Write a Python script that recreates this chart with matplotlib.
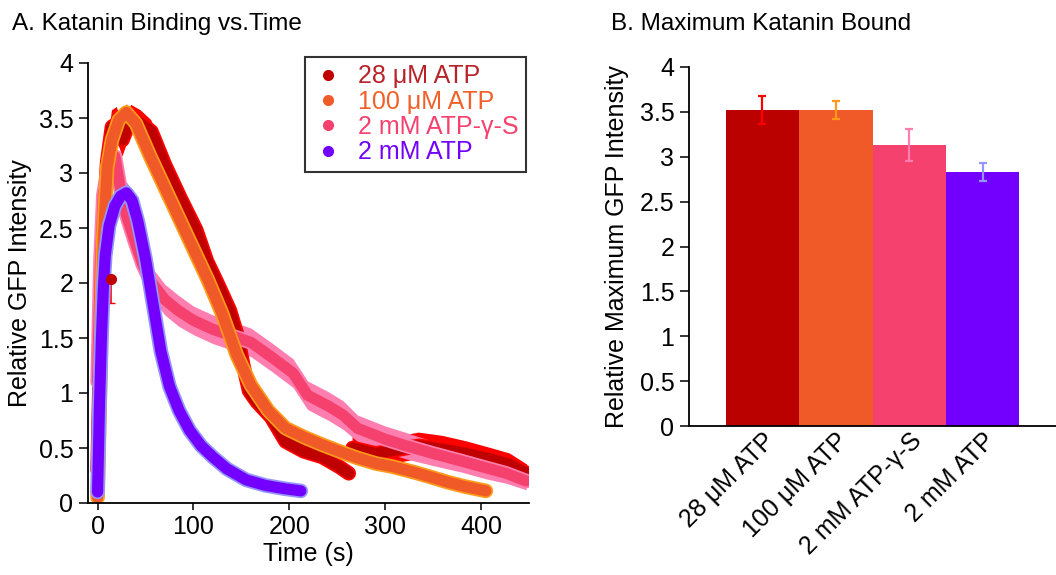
import matplotlib
matplotlib.use('Agg')
import matplotlib.pyplot as plt
import matplotlib.transforms as mtransforms
from matplotlib.lines import Line2D
import numpy as np

plt.rcParams['font.family'] = ['Liberation Sans', 'DejaVu Sans']

nan = np.nan

# --- A. Katanin binding vs time ---
t_28 = [0, 3, 6, 10, 15, 20, 26, 35, 45, 56, 70, 86, 103, 114, 126, 138, 146, 152, 158,
        166, 181, 196, 215, 234, 252, 262, nan, 266, 290, 310, 335, 360, 385, 410, 430, 448]
y_28 = [0.30, 1.50, 2.50, 3.10, 3.42, 3.45, 3.30, 3.50, 3.45, 3.38, 3.08, 2.78, 2.48, 2.20,
        1.98, 1.75, 1.52, 1.25, 1.02, 0.92, 0.78, 0.56, 0.47, 0.42, 0.33, 0.27, nan,
        0.50, 0.45, 0.48, 0.52, 0.49, 0.45, 0.40, 0.35, 0.27]
e_28 = [0.15, 0.2, 0.2, 0.15, 0.15, 0.15, 0.15, 0.12, 0.12, 0.1, 0.1, 0.1, 0.1, 0.1, 0.1,
        0.1, 0.1, 0.1, 0.1, 0.08, 0.08, 0.06, 0.06, 0.06, 0.05, 0.05, nan,
        0.1, 0.1, 0.12, 0.12, 0.12, 0.11, 0.1, 0.1, 0.08]

t_100 = [0, 3, 6, 10, 15, 22, 30, 40, 55, 70, 85, 100, 115, 130, 145, 160, 178, 196, 215,
         234, 255, 271, 290, 308, 330, 346, 365, 383, 405]
y_100 = [0.05, 1.20, 2.40, 3.05, 3.30, 3.48, 3.55, 3.45, 3.15, 2.87, 2.59, 2.31, 2.03,
         1.72, 1.35, 1.07, 0.84, 0.68, 0.60, 0.53, 0.46, 0.41, 0.36, 0.33, 0.28, 0.24,
         0.19, 0.15, 0.11]
e_100 = [0.03, 0.08, 0.08, 0.08, 0.08, 0.08, 0.08, 0.08, 0.08, 0.07, 0.07, 0.07, 0.07,
         0.06, 0.06, 0.05, 0.05, 0.04, 0.04, 0.04, 0.04, 0.03, 0.03, 0.03, 0.03, 0.03,
         0.03, 0.03, 0.03]

t_gs = [0, 3, 6, 10, 15, 18, 24, 30, 38, 47, 55, 70, 84, 100, 120, 140, 160, 181, 204,
        219, 241, 256, 271, 300, 322, 350, 380, 405, 426, 447]
y_gs = [1.10, 2.20, 2.80, 3.00, 3.12, 3.15, 2.85, 2.62, 2.40, 2.17, 2.02, 1.85, 1.75,
        1.66, 1.58, 1.52, 1.46, 1.33, 1.18, 0.98, 0.88, 0.80, 0.68, 0.58, 0.52, 0.45,
        0.38, 0.32, 0.27, 0.20]
e_gs = [0.2, 0.2, 0.18, 0.15, 0.15, 0.15, 0.15, 0.14, 0.14, 0.14, 0.14, 0.14, 0.14,
        0.13, 0.13, 0.13, 0.13, 0.13, 0.13, 0.13, 0.13, 0.13, 0.12, 0.12, 0.12, 0.11,
        0.1, 0.1, 0.09, 0.08]

t_2 = [0, 2, 4, 6, 8, 12, 18, 24, 30, 36, 42, 50, 58, 66, 75, 85, 96, 108, 120, 135,
       155, 175, 195, 212]
y_2 = [0.10, 0.90, 1.50, 1.95, 2.25, 2.52, 2.70, 2.79, 2.82, 2.75, 2.56, 2.22, 1.80,
       1.38, 1.06, 0.84, 0.66, 0.52, 0.42, 0.31, 0.21, 0.16, 0.13, 0.11]
e_2 = [0.03, 0.1, 0.1, 0.1, 0.1, 0.1, 0.1, 0.1, 0.1, 0.09, 0.08, 0.07, 0.06, 0.05,
       0.05, 0.04, 0.04, 0.04, 0.03, 0.03, 0.02, 0.02, 0.02, 0.02]

# lone 28 uM point with its error bar
pt_t, pt_y, pt_e = [14.5], [2.04], [0.22]

# --- B. maximum bound ---
conditions = ['28 μM ATP', '100 μM ATP', '2 mM ATP-γ-S', '2 mM ATP']
max_bound = [3.52, 3.52, 3.13, 2.83]
max_err = [0.16, 0.10, 0.18, 0.10]

main_cols = ['#C00000', '#F05A28', '#F5416D', '#7300FF']
band_cols = ['#FF0000', '#FF9A1A', '#FF7EB0', '#9595FF']
bar_cols = ['#BB0000', '#F05A28', '#F5416D', '#7300FF']
text_cols = ['#B8232A', '#F06028', '#F5416D', '#7300FF']

fig = plt.figure(figsize=(10.56, 5.75), dpi=100)
ax1 = fig.add_axes([88/1056, 1-503/575, (529-88)/1056, 440/575])
ax2 = fig.add_axes([689/1056, 1-426/575, (1056-689)/1056, 359/575])

series = [(t_28, y_28, e_28, 0), (t_gs, y_gs, e_gs, 2), (t_100, y_100, e_100, 1), (t_2, y_2, e_2, 3)]
for t, y, e, k in series:
    t, y, e = np.array(t), np.array(y), np.array(e)
    ax1.fill_between(t, y - e, y + e, color=band_cols[k], lw=0)
    ax1.plot(t, y, color=band_cols[k], lw=10.5, solid_capstyle='round', solid_joinstyle='round')
    ax1.plot(t, y, color=main_cols[k], lw=8, solid_capstyle='round', solid_joinstyle='round')
    if k == 0:
        ax1.errorbar(pt_t, pt_y, yerr=[pt_e, [0]], fmt='o', color=main_cols[0], ms=7,
                     ecolor=band_cols[0], elinewidth=1.2, capsize=3)

ax1.set_xlim(-10, 450)
ax1.set_ylim(0, 4)
ax1.set_xticks([0, 100, 200, 300, 400])
ax1.set_yticks(np.arange(0, 4.01, 0.5))
ax1.set_yticklabels([f'{v:g}' for v in np.arange(0, 4.01, 0.5)])
ax1.set_xlabel('Time (s)', fontsize=18, labelpad=2)
ax1.set_ylabel('Relative GFP Intensity', fontsize=18, labelpad=5)

handles = [Line2D([], [], ls='none', marker='o', ms=7, color=c) for c in main_cols]
leg = ax1.legend(handles, conditions, loc='upper left', bbox_to_anchor=(305/1056, 1-57/575),
                 bbox_transform=fig.transFigure, fontsize=18, frameon=True, fancybox=False,
                 labelcolor=text_cols, borderaxespad=0, handletextpad=0.6, handlelength=1.2,
                 labelspacing=0.05, borderpad=0.3)
leg.get_frame().set_edgecolor('black')
leg.get_frame().set_linewidth(1.5)

x = np.arange(len(conditions))
ax2.bar(x, max_bound, width=1.0, color=bar_cols)
for i in range(len(conditions)):
    ax2.errorbar(x[i], max_bound[i], yerr=max_err[i], fmt='none', ecolor=band_cols[i],
                 elinewidth=1.6, capsize=3, capthick=1.6)
ax2.set_xlim(-1.0, 4.0)
ax2.set_ylim(0, 4)
ax2.set_yticks(np.arange(0, 4.01, 0.5))
ax2.set_yticklabels([f'{v:g}' for v in np.arange(0, 4.01, 0.5)])
ax2.set_xticks(x)
ax2.set_xticklabels(conditions, rotation=45, ha='right', va='top', rotation_mode='anchor')
ax2.set_ylabel('Relative Maximum GFP Intensity', fontsize=18, labelpad=8)
offset = mtransforms.ScaledTranslation(18/100, -6/100, fig.dpi_scale_trans)
for lab in ax2.get_xticklabels():
    lab.set_transform(lab.get_transform() + offset)

for ax in (ax1, ax2):
    ax.spines['top'].set_visible(False)
    ax.spines['right'].set_visible(False)
    ax.spines['left'].set_linewidth(1.3)
    ax.spines['bottom'].set_linewidth(1.3)
    ax.tick_params(axis='both', labelsize=18, direction='out', width=1.1)
    ax.tick_params(axis='y', length=6.5, pad=4)
ax1.tick_params(axis='x', length=5, pad=4)
ax2.tick_params(axis='x', length=0, pad=2)

fig.text(12/1056, 1-30/575, 'A. Katanin Binding vs.Time', fontsize=17.5, va='baseline')
fig.text(611/1056, 1-30/575, 'B. Maximum Katanin Bound', fontsize=17.5, va='baseline')

fig.savefig('out.png', dpi=100)
